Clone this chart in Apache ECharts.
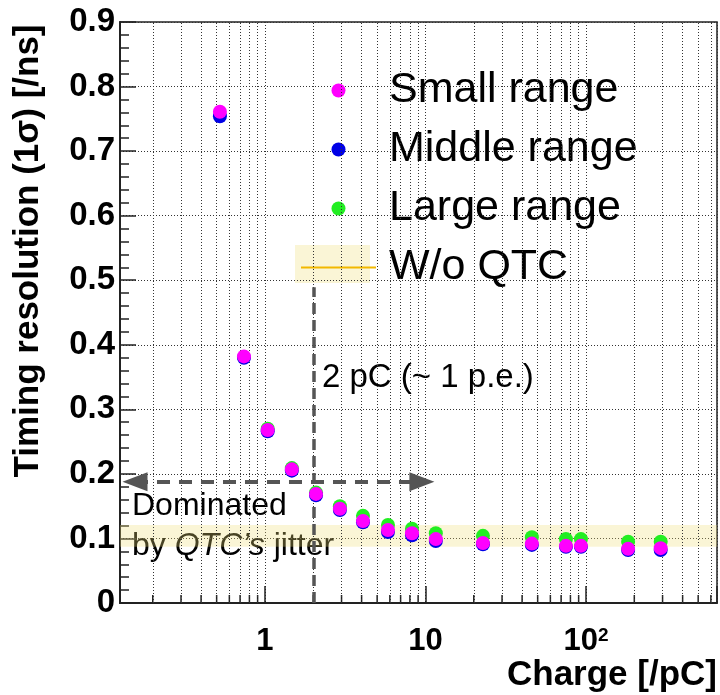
<!DOCTYPE html>
<html><head><meta charset="utf-8">
<script src="https://cdn.jsdelivr.net/npm/echarts@6/dist/echarts.min.js"></script>
<style>html,body{margin:0;padding:0;background:#fff}#c{width:720px;height:695px}</style>
</head><body><div id="c"></div>
<script>
// ---- data ----
const charge = [0.524, 0.74, 1.04, 1.47, 2.08, 2.93, 4.08, 5.84, 8.24, 11.6, 22.8, 46, 75, 93, 183, 292];
const smallRange  = [0.761, 0.382, 0.268, 0.207, 0.169, 0.146, 0.127, 0.113, 0.108, 0.099, 0.093, 0.092, 0.0885, 0.0885, 0.084, 0.085];
const middleRange = [0.754, 0.380, 0.266, 0.205, 0.167, 0.144, 0.125, 0.110, 0.105, 0.096, 0.091, 0.090, 0.087, 0.087, 0.082, 0.082];
const largeRange  = [null, null, 0.270, 0.209, 0.171, 0.150, 0.135, 0.121, 0.115, 0.108, 0.104, 0.102, 0.099, 0.099, 0.095, 0.095];
const woQtcBand = [0.087, 0.121];
const xRange = [0.125, 655];
const yRange = [0, 0.9];
const yStep = 0.1;
const xMinor = [0.2,0.3,0.4,0.5,0.6,0.7,0.8,0.9, 2,3,4,5,6,7,8,9, 20,30,40,50,60,70,80,90, 200,300,400,500,600];
const threshold = 2;          // pC (~1 p.e.)
const thresholdTop = 0.489;
const arrowY = 0.188;
const arrowX = [0.155, 9.5];
const seriesNames = ['Small range', 'Middle range', 'Large range', 'W/o QTC'];

const FONT = "'Liberation Sans', Arial, sans-serif";
const pts = arr => charge.map((c, i) => [c, arr[i]]).filter(d => d[1] != null);
const gridDot = { type: [1, 2], color: '#333', width: 1 };
const bandFill = 'rgba(240,222,120,0.3)';

const chart = echarts.init(document.getElementById('c'), null, { renderer: 'canvas' });
chart.setOption({
  animation: false,
  backgroundColor: '#fff',
  grid: { left: 120, right: 3, top: 22, bottom: 92, show: true, borderColor: '#222', borderWidth: 1.5, backgroundColor: 'transparent', outerBoundsMode: 'none' },
  legend: {
    data: seriesNames.map(n => n === 'W/o QTC' ? { name: n, itemStyle: { opacity: 0 } } : n),
    orient: 'vertical', left: 295, top: 64,
    itemWidth: 75, itemHeight: 14, itemGap: 16,
    selectedMode: false,
    textStyle: { fontSize: 43, fontFamily: FONT, color: '#000', lineHeight: 42, padding: [0, 0, 0, 8] }
  },
  xAxis: {
    type: 'log', min: xRange[0], max: xRange[1], logBase: 10,
    axisLine: { lineStyle: { color: '#222', width: 2 } },
    axisTick: { inside: true, length: 17, lineStyle: { color: '#222', width: 1.5 } },
    splitLine: { show: true, lineStyle: gridDot },
    axisLabel: {
      margin: 23, color: '#000', fontSize: 31, fontWeight: 'bold', fontFamily: FONT,
      formatter: v => {
        const l = Math.log10(v);
        if (Math.abs(l - Math.round(l)) > 1e-6) return '';
        const e = Math.round(l);
        if (e === 0) return '1';
        if (e === 1) return '10';
        if (e >= 2) return '{a|10}{s|' + e + '}';
        return '';
      },
      rich: {
        a: { fontSize: 31, fontWeight: 'bold', fontFamily: FONT, color: '#000' },
        s: { fontSize: 19, fontWeight: 'bold', fontFamily: FONT, color: '#000', verticalAlign: 'top', padding: [0, 0, 12, 0] }
      }
    }
  },
  yAxis: {
    type: 'value', min: yRange[0], max: yRange[1], interval: yStep,
    axisLine: { lineStyle: { color: '#222', width: 2 } },
    axisTick: { inside: true, length: 16, lineStyle: { color: '#222', width: 1.5 } },
    minorTick: { show: true, splitNumber: 5, length: 9, lineStyle: { color: '#222', width: 1.5 } },
    splitLine: { show: true, lineStyle: gridDot },
    axisLabel: { margin: 5, color: '#000', fontSize: 33, fontWeight: 'bold', fontFamily: FONT,
      formatter: v => (v === 0 ? '0' : v.toFixed(1)) }
  },
  series: [
    { // W/o QTC band + minor vertical grid
      name: 'W/o QTC', type: 'line', data: [], symbol: 'none', z: 1,
      lineStyle: { color: '#f2b800', width: 2 }, itemStyle: { color: '#f2b800' },
      markArea: { silent: true, itemStyle: { color: bandFill },
        data: [[{ yAxis: woQtcBand[0] }, { yAxis: woQtcBand[1] }]] },
      markLine: { silent: true, symbol: 'none', label: { show: false }, animation: false,
        lineStyle: gridDot, data: xMinor.map(v => ({ xAxis: v })) }
    },
    { // minor x ticks
      type: 'custom', silent: true, z: 3,
      data: xMinor.map(v => [v, 0]),
      renderItem: (params, api) => {
        const p = api.coord([api.value(0), yRange[0]]);
        return { type: 'line', shape: { x1: p[0], y1: p[1], x2: p[0], y2: p[1] - 8 },
          style: { stroke: '#222', lineWidth: 1.5 } };
      }
    },
    { // threshold dashed line
      type: 'line', data: [], z: 2,
      markLine: { silent: true, symbol: 'none', label: { show: false },
        lineStyle: { color: '#555', width: 3.5, type: [11, 6] },
        data: [[{ coord: [threshold, yRange[0]] }, { coord: [threshold, thresholdTop] }]] }
    },
    { // double arrow
      type: 'line', data: [], z: 2,
      markLine: { silent: true, symbol: ['triangle', 'triangle'], symbolSize: [19, 25],
        label: { show: false },
        lineStyle: { color: '#555', width: 4, type: [13, 9] },
        itemStyle: { color: '#555' },
        data: [[{ coord: [arrowX[0], arrowY] }, { coord: [arrowX[1], arrowY] }]] }
    },
    { name: 'Large range', type: 'scatter', data: pts(largeRange), symbolSize: 14, z: 5, itemStyle: { color: '#22ee22', opacity: 1 } },
    { name: 'Middle range', type: 'scatter', data: pts(middleRange), symbolSize: 14, z: 5, itemStyle: { color: '#0000e6', opacity: 1 } },
    { name: 'Small range', type: 'scatter', data: pts(smallRange), symbolSize: 14, z: 5, itemStyle: { color: '#ff00ff', opacity: 1 } }
  ],
  graphic: [
    { type: 'rect', z: 0, silent: true, shape: { x: 295, y: 245, width: 75, height: 38 },
      style: { fill: bandFill } },
    { type: 'text', silent: true, x: 28, y: 251, rotation: Math.PI / 2,
      style: { text: 'Timing resolution (1σ) [/ns]', font: "bold 35px 'Liberation Sans', Arial, sans-serif",
        fill: '#000', align: 'center', verticalAlign: 'middle' } },
    { type: 'text', silent: true, x: 717, y: 675,
      style: { text: 'Charge [/pC]', font: "bold 35px 'Liberation Sans', Arial, sans-serif",
        fill: '#000', align: 'right', verticalAlign: 'middle' } },
    { type: 'text', silent: true, x: 322, y: 378,
      style: { text: '2 pC (~ 1 p.e.)', font: "33px 'Liberation Sans', Arial, sans-serif",
        fill: '#000', align: 'left', verticalAlign: 'middle' } },
    { type: 'text', silent: true, x: 132, y: 506,
      style: { text: 'Dominated', font: "32px 'Liberation Sans', Arial, sans-serif",
        fill: '#000', align: 'left', verticalAlign: 'middle' } },
    { type: 'text', silent: true, x: 132, y: 546,
      style: { text: '{n|by }{i|QTC’s}{n| jitter}', align: 'left', verticalAlign: 'middle',
        rich: { n: { font: "32px 'Liberation Sans', Arial, sans-serif", fill: '#000' },
                i: { font: "italic 32px 'Liberation Sans', Arial, sans-serif", fill: '#000' } } } }
  ]
});
</script></body></html>
